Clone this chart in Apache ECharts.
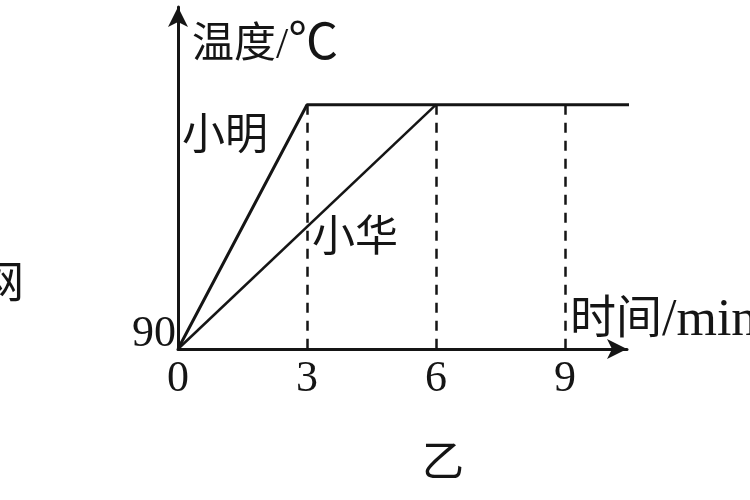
<!DOCTYPE html>
<html>
<head>
<meta charset="utf-8">
<script src="https://cdn.jsdelivr.net/npm/echarts@6/dist/echarts.min.js"></script>
<style>
 html, body { margin: 0; padding: 0; background: #fff; }
 #main { width: 750px; height: 500px; }
</style>
</head>
<body>
<div id="main"></div>
<script>
// values
const xTicks = [0, 3, 6, 9];
const mingTime = [0, 3, 10.56];
const mingTemp = [90, 100, 100];
const huaTime = [0, 6];
const huaTemp = [90, 100];
const guideTimes = [3, 6, 9];
const startTemp = 90;
const boilTemp = 100;

const ink = '#151515';
const fontFam = '"Liberation Serif", "Noto Sans CJK SC", serif';

function pairs(xs, ys) {
 return xs.map((x, k) => [x, ys[k]]);
}

var chart = echarts.init(document.getElementById('main'));

var guides = guideTimes.map(t => [{ coord: [t, boilTemp] }, { coord: [t, startTemp] }]);

var option = {
 backgroundColor: '#fff',
 animation: false,
 grid: { left: 178, top: 7, width: 449, height: 342, containLabel: false, outerBoundsMode: 'none' },
 xAxis: {
  type: 'value',
  min: 0,
  max: 10.44,
  interval: 3,
  name: '{c|时间}{l|/min}',
  nameLocation: 'end',
  nameGap: -57,
  nameTextStyle: {
   color: ink, fontFamily: fontFam, fontSize: 46, align: 'left', verticalAlign: 'bottom', padding: [0, 0, 2, 0],
   rich: {
    c: { color: ink, fontFamily: fontFam, fontSize: 46 },
    l: { color: ink, fontFamily: fontFam, fontSize: 52 }
   }
  },
  axisLine: { lineStyle: { color: ink, width: 3 }, symbol: ['none', 'arrow'], symbolSize: [15, 20], symbolOffset: [0, 0] },
  axisTick: { show: false },
  splitLine: { show: false },
  axisLabel: { color: ink, fontFamily: fontFam, fontSize: 44, margin: 8, showMaxLabel: false,
   formatter: v => xTicks.indexOf(v) >= 0 ? String(v) : '' }
 },
 yAxis: {
  type: 'value',
  min: 90,
  max: 104,
  interval: 10,
  name: '{c|温度}{s|/}{u|℃}',
  nameLocation: 'end',
  nameGap: -64,
  nameTextStyle: {
   color: ink, fontFamily: fontFam, fontSize: 42, align: 'left', verticalAlign: 'bottom', padding: [0, 0, 0, 14],
   rich: {
    c: { color: ink, fontFamily: fontFam, fontSize: 42 },
    s: { color: ink, fontFamily: fontFam, fontSize: 44 },
    u: { color: ink, fontFamily: fontFam, fontSize: 50 }
   }
  },
  axisLine: { lineStyle: { color: ink, width: 3 }, symbol: ['none', 'arrow'], symbolSize: [15, 20], symbolOffset: [0, 0] },
  axisTick: { show: false },
  splitLine: { show: false },
  axisLabel: { color: ink, fontFamily: fontFam, fontSize: 44, margin: 2, verticalAlign: 'bottom', lineHeight: 30,
   formatter: v => v === startTemp ? String(v) : '' }
 },
 series: [
  {
   name: '小明',
   type: 'line',
   clip: false,
   symbol: 'none',
   data: pairs(mingTime, mingTemp),
   lineStyle: { color: ink, width: 3 },
   markLine: {
    silent: true,
    symbol: 'none',
    label: { show: false },
    lineStyle: { color: ink, width: 2.5, type: [10, 8] },
    data: guides
   }
  },
  {
   name: '小华',
   type: 'line',
   symbol: 'none',
   data: pairs(huaTime, huaTemp),
   lineStyle: { color: ink, width: 2.5 }
  }
 ],
 graphic: [
  { type: 'text', left: 182, top: 116, style: { text: '小明', font: '43px ' + fontFam, fill: ink } },
  { type: 'text', left: 312, top: 218, style: { text: '小华', font: '43px ' + fontFam, fill: ink } },
  { type: 'text', left: 422, top: 444, style: { text: '乙', font: '42px ' + fontFam, fill: ink } },
  { type: 'text', left: -20, top: 264, style: { text: '网', font: '44px ' + fontFam, fill: ink } }
 ]
};

chart.setOption(option);
</script>
</body>
</html>
